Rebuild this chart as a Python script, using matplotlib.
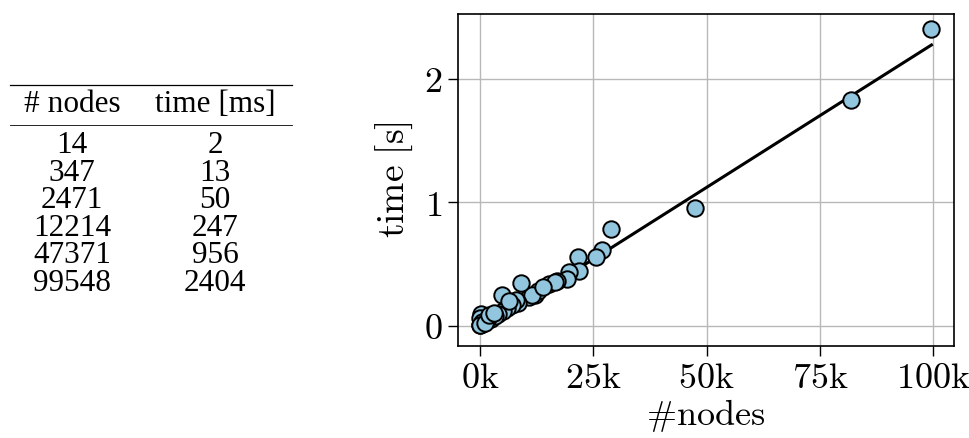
import numpy as np
import matplotlib
matplotlib.use("Agg")
import matplotlib.pyplot as plt
from matplotlib.ticker import FuncFormatter, MultipleLocator
from matplotlib.lines import Line2D

# Table rows: graph size and runtime
table_nodes = [14, 347, 2471, 12214, 47371, 99548]
table_time_ms = [2, 13, 50, 247, 956, 2404]
table_header = ["# nodes", "time [ms]"]

# Scatter: graph size (nodes) vs runtime (s)
nodes = [14, 347, 2471, 12214, 47371, 99548, 81800, 28800, 26900, 25600,
         21500, 21800, 19700, 19100, 17000, 15200, 16500, 12800, 10900, 11500,
         9000, 8400, 8000, 7000, 6000, 4800, 5000, 4000, 3300, 1300,
         1800, 200, 100, 500, 50, 1000, 2000, 3000, 6500, 14000]
time_s = [0.002, 0.013, 0.050, 0.247, 0.956, 2.404, 1.830, 0.785, 0.615, 0.558,
          0.558, 0.442, 0.434, 0.378, 0.362, 0.337, 0.350, 0.283, 0.232, 0.245,
          0.345, 0.186, 0.210, 0.170, 0.140, 0.245, 0.118, 0.095, 0.075, 0.042,
          0.060, 0.095, 0.060, 0.030, 0.005, 0.025, 0.085, 0.100, 0.200, 0.310]

# Linear fit of runtime over graph size
fit_slope = 2.325e-5
fit_intercept = -0.043

plt.rcParams["mathtext.fontset"] = "cm"

W, H = 969, 438
fig = plt.figure(figsize=(W / 100, H / 100), dpi=100)

# ---- table on the left ----
def fx(px):
    return px / W

def fy(py):
    return 1 - py / H

serif = ["Liberation Serif", "DejaVu Serif"]
col_x = [72, 215]
fs_tab = 22.5
fig.add_artist(Line2D([fx(10), fx(292)], [fy(85), fy(85)], color="black", lw=0.9))
fig.add_artist(Line2D([fx(10), fx(292)], [fy(124.5), fy(124.5)], color="black", lw=0.6))
for cx, h in zip(col_x, table_header):
    fig.text(fx(cx), fy(104), h, ha="center", va="center", family=serif, fontsize=fs_tab)
row_y0, row_dy = 145.5, 27.6
for i, (n, t) in enumerate(zip(table_nodes, table_time_ms)):
    y = fy(row_y0 + i * row_dy)
    fig.text(fx(col_x[0]), y, str(n), ha="center", va="center", family=serif, fontsize=fs_tab)
    fig.text(fx(col_x[1]), y, str(t), ha="center", va="center", family=serif, fontsize=fs_tab)

# ---- scatter plot on the right ----
ax = fig.add_axes([457.5 / W, 1 - 346 / H, (954 - 457.5) / W, (346 - 13.5) / H])
ax.set_axisbelow(True)
ax.grid(True, color="#b8b8b8", lw=1.0)
ax.scatter(nodes, time_s, s=140, facecolor="#92c5de", edgecolor="black",
           linewidth=1.4, zorder=3)
xfit = np.array([min(nodes), max(nodes)])
ax.plot(xfit, fit_slope * xfit + fit_intercept, color="black", lw=2.2, zorder=2)

ax.xaxis.set_major_locator(MultipleLocator(25000))
ax.yaxis.set_major_locator(MultipleLocator(1))
ax.xaxis.set_major_formatter(FuncFormatter(lambda v, p: r"$%d\mathrm{k}$" % round(v / 1000)))
ax.yaxis.set_major_formatter(FuncFormatter(lambda v, p: r"$%d$" % round(v)))
ax.tick_params(labelsize=26, length=7, width=1.0, pad=4)
for sp in ax.spines.values():
    sp.set_linewidth(1.2)
ax.set_xlabel(r"$\#\mathrm{nodes}$", fontsize=26, labelpad=1)
ax.set_ylabel(r"$\mathrm{time\ [s]}$", fontsize=27, labelpad=6)

fig.savefig("out.png", dpi=100)
